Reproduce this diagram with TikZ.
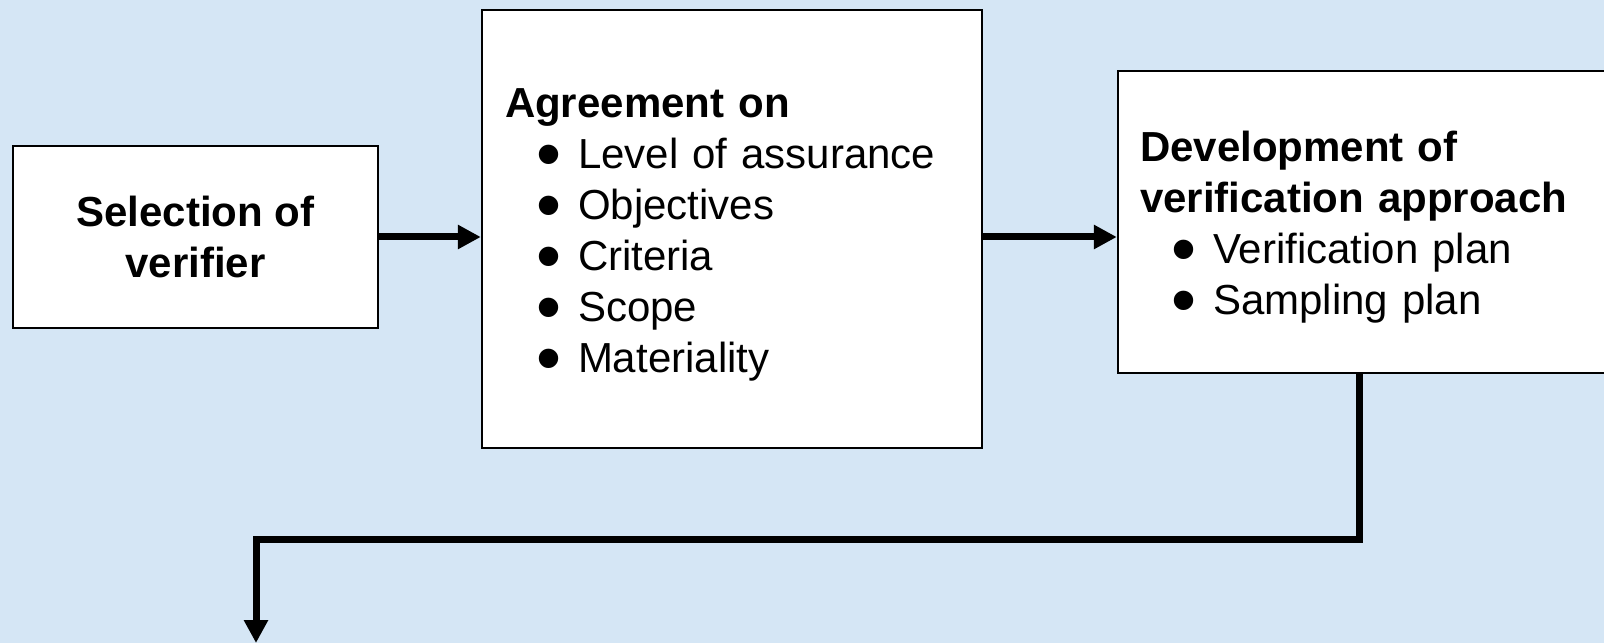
\documentclass[tikz,border=0pt]{standalone}
\usepackage{fontspec}
\usepackage{graphicx}
\setmainfont{Liberation Sans}
\usetikzlibrary{arrows.meta,positioning}
\definecolor{bgblue}{RGB}{213,230,245}
\newcommand{\bitem}[1]{\hspace*{22pt}\makebox[0pt]{\raisebox{-5pt}{\scalebox{1.7}{\textbullet}}}\hspace*{14.5pt}#1}
\newcommand{\topstrut}{\rule{0pt}{21pt}}
\tikzset{
procbox/.style={draw=black,line width=1.2pt,fill=white,align=left,font=\fontsize{21}{25.5}\selectfont},
flowarrow/.style={line width=3.5pt,-{Triangle[length=11.5pt,width=11.5pt]}}
}
\begin{document}
\begin{tikzpicture}[x=0.5pt,y=0.5pt]
\useasboundingbox (0,0) rectangle (1604,643);
\fill[bgblue] (0,0) rectangle (1604,643);
\clip (0,0) rectangle (1604,643);
\node[procbox,align=center,minimum width=182.5pt,minimum height=91pt] (sel) at (195.5,406) {\textbf{Selection of}\\\textbf{verifier}};
\node[procbox,text width=227pt,inner xsep=11.5pt,minimum height=219pt] (agree) at (732,414) {\topstrut\textbf{Agreement on}\\\bitem{Level of assurance}\\\bitem{Objectives}\\\bitem{Criteria}\\\bitem{Scope}\\\bitem{Materiality}};
\node[procbox,text width=224pt,inner xsep=11pt,minimum height=151pt] (devel) at (1364,421) {\topstrut\textbf{Development of}\\\textbf{verification approach}\\\bitem{Verification plan}\\\bitem{Sampling plan}};
\coordinate (bend) at (256,104);
\coordinate (out) at (256,0);
\draw[flowarrow] (sel.east) -- (sel.east -| agree.west);
\draw[flowarrow] (sel.east -| agree.east) -- (sel.east -| devel.west);
\draw[flowarrow] ([xshift=-2.25pt]devel.south) |- (bend) -- (out);
\end{tikzpicture}
\end{document}
